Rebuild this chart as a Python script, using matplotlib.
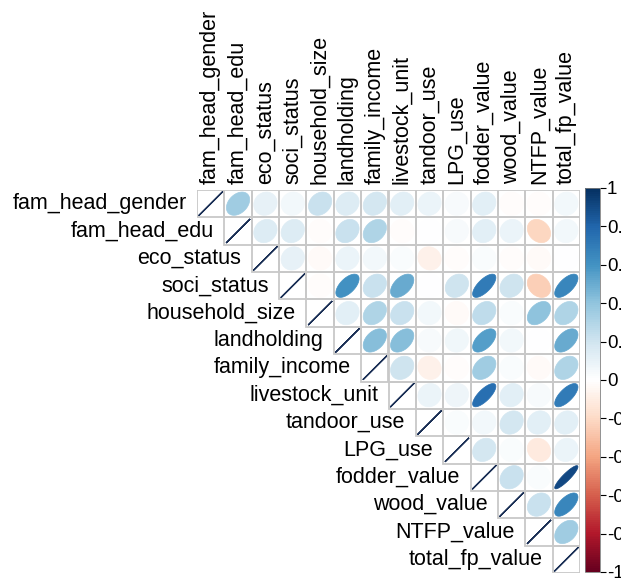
import numpy as np
import matplotlib
matplotlib.use('Agg')
import matplotlib.pyplot as plt
from matplotlib.patches import Polygon, Rectangle
from matplotlib.colors import LinearSegmentedColormap, Normalize
from matplotlib.cm import ScalarMappable

plt.rcParams['font.family'] = ['Liberation Sans', 'DejaVu Sans']

variables = ["fam_head_gender", "fam_head_edu", "eco_status", "soci_status",
             "household_size", "landholding", "family_income", "livestock_unit",
             "tandoor_use", "LPG_use", "fodder_value", "wood_value",
             "NTFP_value", "total_fp_value"]

# upper triangle of the correlation matrix, row by row (diagonal included)
r_gender    = [1, 0.35, 0.10, 0.05, 0.22, 0.15, 0.18, 0.12, 0.08, 0.03, 0.12, -0.02, -0.02, 0.05]
r_edu       = [1, 0.15, 0.15, -0.02, 0.22, 0.30, -0.02, 0.00, 0.03, 0.12, 0.08, -0.22, 0.05]
r_eco       = [1, 0.10, -0.03, 0.08, 0.05, 0.02, -0.08, -0.02, 0.02, -0.02, -0.03, 0.00]
r_soci      = [1, -0.02, 0.60, 0.22, 0.50, 0.00, 0.20, 0.70, 0.20, -0.25, 0.65]
r_household = [1, 0.12, 0.30, 0.22, 0.05, -0.03, 0.25, 0.02, 0.40, 0.30]
r_land      = [1, 0.42, 0.42, 0.03, 0.06, 0.55, 0.05, 0.00, 0.50]
r_income    = [1, 0.20, -0.08, -0.02, 0.35, 0.02, -0.03, 0.30]
r_livestock = [1, 0.08, 0.07, 0.75, 0.12, 0.03, 0.70]
r_tandoor   = [1, 0.02, 0.05, 0.18, 0.12, 0.12]
r_lpg       = [1, 0.18, 0.02, -0.12, 0.08]
r_fodder    = [1, 0.22, 0.02, 0.90]
r_wood      = [1, 0.22, 0.65]
r_ntfp      = [1, 0.35]
r_total     = [1]
rows = [r_gender, r_edu, r_eco, r_soci, r_household, r_land, r_income,
        r_livestock, r_tandoor, r_lpg, r_fodder, r_wood, r_ntfp, r_total]

cbar_ticks = [-1, -0.8, -0.6, -0.4, -0.2, 0, 0.2, 0.4, 0.6, 0.8, 1]

cmap = LinearSegmentedColormap.from_list("RdBu_corr", [
    "#67001F", "#B2182B", "#D6604D", "#F4A582", "#FDDBC7", "#FFFFFF",
    "#D1E5F0", "#92C5DE", "#4393C3", "#2166AC", "#053061"], N=200)
norm = Normalize(-1, 1)

fig = plt.figure(figsize=(6.21, 5.78), dpi=100)
W, H = 621, 578
left, right, top, bottom = 197, 580, 190, 573
ax = fig.add_axes([left / W, (H - bottom) / H, (right - left) / W, (bottom - top) / H])
n = len(variables)
ax.set_xlim(0, n)
ax.set_ylim(n, 0)
ax.axis('off')

t = np.linspace(0, 2 * np.pi, 99)
for i, row in enumerate(rows):
    for k, r in enumerate(row):
        j = i + k
        ax.add_patch(Rectangle((j, i), 1, 1, fill=False, edgecolor='#c8c8c8', lw=1.3, zorder=3))
        a = np.arccos(np.clip(r, -1, 1)) / 2
        xs = j + 0.5 + 0.85 * 0.5 * np.cos(t + a)
        ys = i + 0.5 - 0.85 * 0.5 * np.cos(t - a)
        c = cmap(norm(r))
        if abs(r) >= 0.999:
            ax.plot(xs, ys, color='#1a2f55', lw=1.0, zorder=2)
        else:
            ax.add_patch(Polygon(np.column_stack([xs, ys]), closed=True,
                                 facecolor=c, edgecolor=c, lw=0.5, zorder=2))

for j, name in enumerate(variables):
    ax.text(j + 0.5, -0.22, name, rotation=90, ha='center', va='bottom',
            fontsize=15.5, clip_on=False)
    ax.text(j - 0.38, j + 0.5, name, ha='right', va='center',
            fontsize=15.5, clip_on=False)

cax = fig.add_axes([585 / W, (H - 572) / H, 15 / W, (572 - 188) / H])
cb = fig.colorbar(ScalarMappable(norm=norm, cmap=cmap), cax=cax, ticks=cbar_ticks)
cb.ax.set_yticklabels([str(v) for v in cbar_ticks], fontsize=13.5)
cb.ax.tick_params(length=4, width=0.8, pad=1)
cb.outline.set_linewidth(0.6)
cb.outline.set_edgecolor('#808080')

fig.savefig("out.png", dpi=100)
